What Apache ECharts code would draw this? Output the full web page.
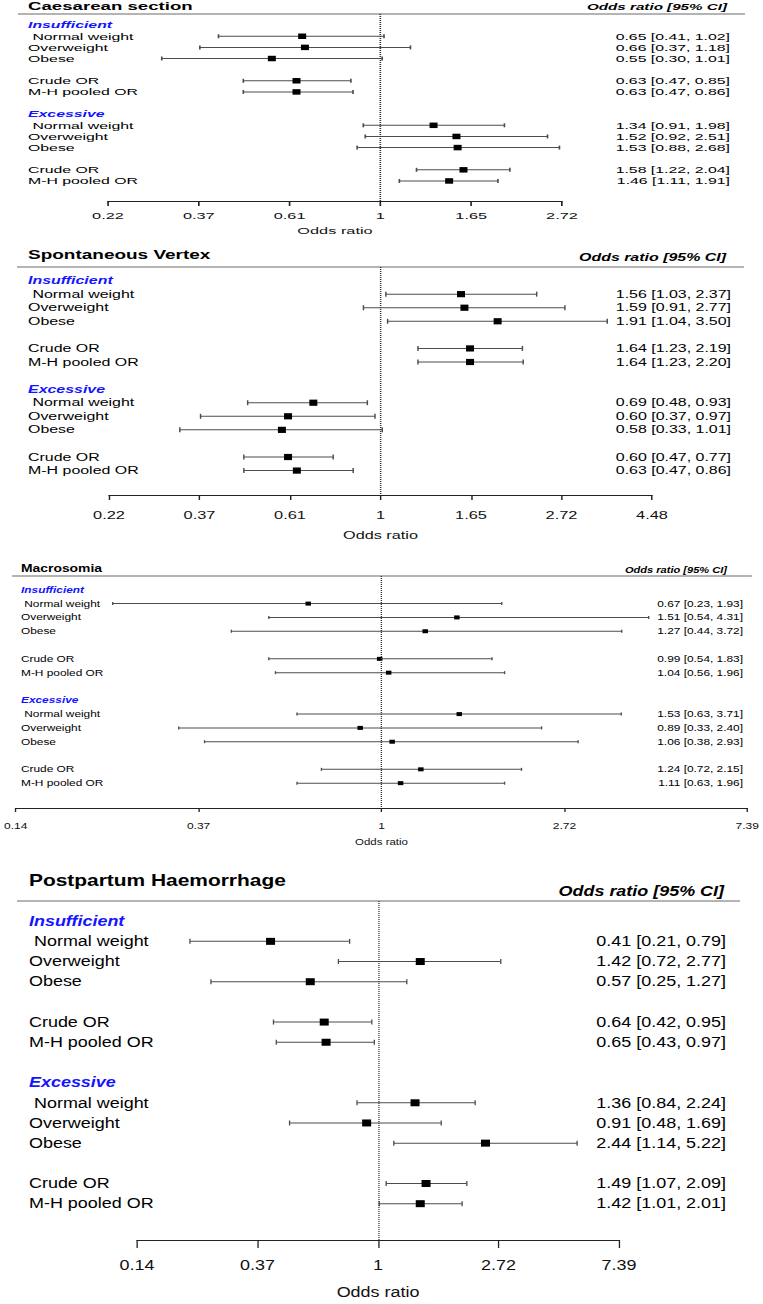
<!DOCTYPE html>
<html><head><meta charset="utf-8">
<script src="https://cdn.jsdelivr.net/npm/echarts@6/dist/echarts.min.js"></script>
<style>
html,body{margin:0;padding:0;background:#fff;width:763px;height:1304px;overflow:hidden;position:relative}
.p{position:absolute;left:0;transform-origin:0 0}
</style>
</head><body>
<div id="p0" class="p"></div>
<div id="p1" class="p"></div>
<div id="p2" class="p"></div>
<div id="p3" class="p"></div>
<script>
// ---------- data ----------
const groupNames = ['Insufficient', 'Excessive'];
const rowNames = [' Normal weight', 'Overweight', 'Obese', 'Crude OR', 'M-H pooled OR',
                  ' Normal weight', 'Overweight', 'Obese', 'Crude OR', 'M-H pooled OR'];
const rowPos = [1, 2, 3, 5, 6, 9, 10, 11, 13, 14];
const groupPos = [0, 8];
const titles = ['Caesarean section', 'Spontaneous Vertex', 'Macrosomia', 'Postpartum Haemorrhage'];
const ciHeader = 'Odds ratio [95% CI]';
const axisTitle = 'Odds ratio';

const csOR = [0.65, 0.66, 0.55, 0.63, 0.63, 1.34, 1.52, 1.53, 1.58, 1.46];
const csLo = [0.41, 0.37, 0.30, 0.47, 0.47, 0.91, 0.92, 0.88, 1.22, 1.11];
const csHi = [1.02, 1.18, 1.01, 0.85, 0.86, 1.98, 2.51, 2.68, 2.04, 1.91];
const csTicks = ['0.22', '0.37', '0.61', '1', '1.65', '2.72'];

const svOR = [1.56, 1.59, 1.91, 1.64, 1.64, 0.69, 0.60, 0.58, 0.60, 0.63];
const svLo = [1.03, 0.91, 1.04, 1.23, 1.23, 0.48, 0.37, 0.33, 0.47, 0.47];
const svHi = [2.37, 2.77, 3.50, 2.19, 2.20, 0.93, 0.97, 1.01, 0.77, 0.86];
const svTicks = ['0.22', '0.37', '0.61', '1', '1.65', '2.72', '4.48'];

const maOR = [0.67, 1.51, 1.27, 0.99, 1.04, 1.53, 0.89, 1.06, 1.24, 1.11];
const maLo = [0.23, 0.54, 0.44, 0.54, 0.56, 0.63, 0.33, 0.38, 0.72, 0.63];
const maHi = [1.93, 4.31, 3.72, 1.83, 1.96, 3.71, 2.40, 2.93, 2.15, 1.96];
const maTicks = ['0.14', '0.37', '1', '2.72', '7.39'];

const phOR = [0.41, 1.42, 0.57, 0.64, 0.65, 1.36, 0.91, 2.44, 1.49, 1.42];
const phLo = [0.21, 0.72, 0.25, 0.42, 0.43, 0.84, 0.48, 1.14, 1.07, 1.01];
const phHi = [0.79, 2.77, 1.27, 0.95, 0.97, 2.24, 1.69, 5.22, 2.09, 2.01];
const phTicks = ['0.14', '0.37', '1', '2.72', '7.39'];

// ---------- layout ----------
const W = 763;
const FF = '"Liberation Sans", Arial, sans-serif';
const panels = [
  {id:'p0', title:titles[0], OR:csOR, LO:csLo, HI:csHi, ticks:csTicks,
   top:0, height:242, s:1.65, font:9.6, titleFont:11.3, hdrFont:9.2, tickFont:9.9, nameFont:9.9,
   xMin:-1.5, xMax:1, interval:0.5, xL:108, xR:562, headerY:14, axisY:201, titleY:5.5, hdrY:7,
   labelX:28, valueR:730, hdrR:727, lineX1:18, lineX2:745, sqW:8, sqH:5.5, cap:4, tickLen:5, labelMargin:10, nameGap:24},
  {id:'p1', title:titles[1], OR:svOR, LO:svLo, HI:svHi, ticks:svTicks,
   top:242, height:305, s:1.45, font:11, titleFont:13.1, hdrFont:11, tickFont:11.3, nameFont:11.2,
   xMin:-1.5, xMax:1.5, interval:0.5, xL:109, xR:652, headerY:25, axisY:253, titleY:12, hdrY:15,
   labelX:28, valueR:731, hdrR:726, lineX1:17, lineX2:744, sqW:8, sqH:6.2, cap:5, tickLen:5, labelMargin:14, nameGap:34},
  {id:'p2', title:titles[2], OR:maOR, LO:maLo, HI:maHi, ticks:maTicks,
   top:547, height:305, s:1.35, font:8.8, titleFont:10.3, hdrFont:8.2, tickFont:8.9, nameFont:8.5,
   xMin:-2, xMax:2, interval:1, xL:13, xR:751, headerY:29, axisY:268, titleY:22, hdrY:23,
   labelX:21, valueR:743, hdrR:727, lineX1:12, lineX2:752, sqW:5.5, sqH:4, cap:3, tickLen:4, labelMargin:13, nameGap:30},
  {id:'p3', title:titles[3], OR:phOR, LO:phLo, HI:phHi, ticks:phTicks,
   top:852, height:452, s:1.3, font:13.8, titleFont:16.1, hdrFont:13.8, tickFont:13.8, nameFont:13.8,
   xMin:-2, xMax:2, interval:1, xL:137, xR:619, headerY:49, axisY:400, titleY:28, hdrY:39,
   labelX:29, valueR:726, hdrR:724, lineX1:17, lineX2:740, sqW:9, sqH:7, cap:5, tickLen:8, labelMargin:18, nameGap:45}
];
const Y_MIN = -1, Y_MAX = 15.8;

function fmt(v){ return v.toFixed(2); }

panels.forEach(function(P){
  const el = document.getElementById(P.id);
  const iw = W / P.s;
  el.style.top = P.top + 'px';
  el.style.width = iw + 'px';
  el.style.height = P.height + 'px';
  el.style.transform = 'scaleX(' + P.s + ')';
  const chart = echarts.init(el, null, {renderer:'svg', width:iw, height:P.height});

  const data = P.OR.map(function(o, i){
    return [Math.log(o), Math.log(P.LO[i]), Math.log(P.HI[i]), rowPos[i]];
  });

  function renderItem(params, api){
    const yv = api.value(3);
    const c = api.coord([api.value(0), yv]);
    const l = api.coord([api.value(1), yv]);
    const r = api.coord([api.value(2), yv]);
    const ls = {stroke:'#4d4d4d', lineWidth:1};
    const h = P.cap / 2;
    const w = P.sqW / P.s;
    return {type:'group', children:[
      {type:'line', shape:{x1:l[0], y1:c[1], x2:r[0], y2:c[1]}, style:ls},
      {type:'line', shape:{x1:l[0], y1:c[1]-h, x2:l[0], y2:c[1]+h}, style:ls},
      {type:'line', shape:{x1:r[0], y1:c[1]-h, x2:r[0], y2:c[1]+h}, style:ls},
      {type:'rect', shape:{x:c[0]-w/2, y:c[1]-P.sqH/2, width:w, height:P.sqH}, style:{fill:'#000'}}
    ]};
  }

  chart.setOption({
    animation:false,
    grid:{left:P.xL/P.s, right:(W-P.xR)/P.s, top:P.headerY, bottom:P.height-P.axisY, containLabel:false},
    xAxis:{type:'value', min:P.xMin, max:P.xMax, interval:P.interval,
      axisLine:{show:true, onZero:false, lineStyle:{color:'#222', width:1}},
      axisTick:{show:true, length:P.tickLen, lineStyle:{color:'#222', width:1}},
      splitLine:{show:false},
      axisLabel:{show:true, margin:P.labelMargin, fontSize:P.tickFont, fontFamily:FF, color:'#111',
        showMinLabel:true, showMaxLabel:true,
        formatter:function(v, i){ return P.ticks[i]; }},
      name:axisTitle, nameLocation:'middle', nameGap:P.nameGap,
      nameTextStyle:{fontSize:P.nameFont, fontFamily:FF, color:'#111'}},
    yAxis:{type:'value', inverse:true, min:Y_MIN, max:Y_MAX, show:false},
    series:[{type:'custom', renderItem:renderItem, data:data, clip:false,
      markLine:{silent:true, symbol:'none', label:{show:false},
        lineStyle:{type:'dotted', color:'#333', width:1}, data:[{xAxis:0}]}}]
  });

  function yOf(pos){ return chart.convertToPixel({yAxisIndex:0}, pos); }
  function txt(text, x, y, size, opt){
    opt = opt || {};
    return {type:'text', x:x, y:y, silent:true,
      style:{text:text, fill:opt.fill||'#000',
        font:(opt.italic?'italic ':'') + (opt.bold?'bold ':'') + size + 'px ' + FF,
        textAlign:opt.align||'left', align:opt.align||'left',
        textVerticalAlign:'middle', verticalAlign:'middle'}};
  }
  const g = [];
  g.push(txt(P.title, P.labelX/P.s, P.titleY, P.titleFont, {bold:true}));
  g.push(txt(ciHeader, P.hdrR/P.s, P.hdrY, P.hdrFont, {bold:true, italic:true, align:'right'}));
  g.push({type:'line', silent:true, shape:{x1:P.lineX1/P.s, y1:P.headerY, x2:P.lineX2/P.s, y2:P.headerY},
    style:{stroke:'#6a6a6a', lineWidth:1.2}});
  groupNames.forEach(function(gn, k){
    g.push(txt(gn, P.labelX/P.s, yOf(groupPos[k]), P.font, {bold:true, italic:true, fill:'#1414ff'}));
  });
  rowNames.forEach(function(rn, i){
    const y = yOf(rowPos[i]);
    g.push(txt(rn.replace(/^ /, '\u00a0'), P.labelX/P.s, y, P.font));
    g.push(txt(fmt(P.OR[i]) + ' [' + fmt(P.LO[i]) + ', ' + fmt(P.HI[i]) + ']', P.valueR/P.s, y, P.font, {align:'right'}));
  });
  chart.setOption({graphic:{elements:g}});
});
</script>
</body></html>
